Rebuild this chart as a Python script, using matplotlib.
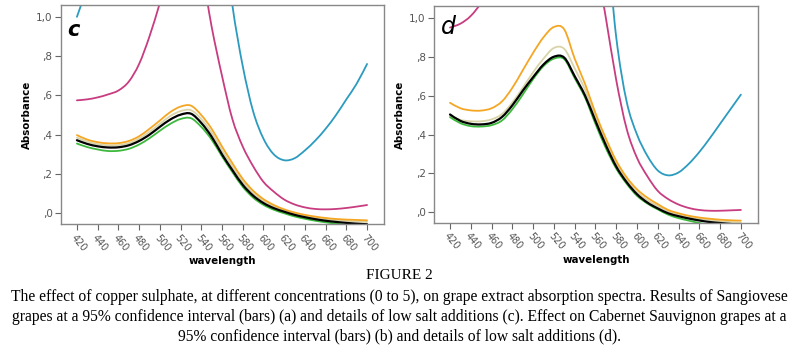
import numpy as np
import matplotlib
matplotlib.use('Agg')
import matplotlib.pyplot as plt
from matplotlib.path import Path
from matplotlib.patches import PathPatch

# wavelength grid (nm)
wl = [420, 430, 440, 450, 460, 470, 480, 490, 500, 510, 520, 530, 540, 550, 560,
      570, 580, 590, 600, 610, 620, 630, 640, 650, 660, 670, 680, 690, 700]

# panel c (Sangiovese, low salt additions)
c_blue = [1.00, 1.15, 1.30, 1.45, 1.60, 1.80, 2.00, 2.20, 2.40, 2.50, 2.50, 2.30, 2.00, 1.80, 1.50,
          1.06, 0.75, 0.52, 0.38, 0.30, 0.27, 0.28, 0.32, 0.37, 0.43, 0.50, 0.58, 0.66, 0.76]
c_magenta = [0.575, 0.58, 0.59, 0.605, 0.625, 0.67, 0.76, 0.90, 1.07, 1.25, 1.40, 1.40, 1.25, 0.95, 0.70,
             0.48, 0.34, 0.24, 0.16, 0.11, 0.07, 0.045, 0.03, 0.022, 0.02, 0.022, 0.027, 0.034, 0.042]
c_orange = [0.398, 0.375, 0.362, 0.356, 0.357, 0.368, 0.392, 0.43, 0.472, 0.515, 0.543, 0.548, 0.50, 0.43, 0.34,
            0.255, 0.175, 0.115, 0.072, 0.042, 0.02, 0.004, -0.008, -0.017, -0.024, -0.029, -0.032, -0.034, -0.036]
c_tan = [0.385, 0.365, 0.352, 0.346, 0.347, 0.357, 0.38, 0.415, 0.455, 0.495, 0.52, 0.525, 0.48, 0.41, 0.32,
         0.237, 0.16, 0.102, 0.062, 0.034, 0.014, -0.002, -0.014, -0.023, -0.03, -0.035, -0.039, -0.042, -0.044]
c_black = [0.372, 0.353, 0.341, 0.335, 0.336, 0.346, 0.368, 0.40, 0.44, 0.477, 0.502, 0.507, 0.46, 0.39, 0.30,
           0.22, 0.145, 0.09, 0.052, 0.026, 0.008, -0.008, -0.02, -0.03, -0.038, -0.044, -0.049, -0.053, -0.056]
c_green = [0.355, 0.337, 0.325, 0.317, 0.318, 0.328, 0.35, 0.382, 0.42, 0.455, 0.48, 0.484, 0.44, 0.375, 0.29,
           0.21, 0.135, 0.08, 0.043, 0.018, 0.0, -0.016, -0.028, -0.038, -0.046, -0.053, -0.06, -0.065, -0.07]

# panel d (Cabernet Sauvignon, low salt additions)
d_blue = [1.6, 1.8, 2.0, 2.2, 2.4, 2.6, 2.8, 3.0, 3.1, 3.1, 3.0, 2.8, 2.5, 2.1, 1.8,
          1.45, 0.90, 0.57, 0.40, 0.29, 0.215, 0.19, 0.205, 0.25, 0.31, 0.38, 0.455, 0.53, 0.605]
d_magenta = [0.95, 0.97, 1.01, 1.08, 1.20, 1.35, 1.50, 1.65, 1.80, 1.90, 1.90, 1.80, 1.65, 1.50, 1.30,
             1.00, 0.68, 0.43, 0.28, 0.185, 0.11, 0.068, 0.04, 0.022, 0.012, 0.008, 0.008, 0.01, 0.012]
d_orange = [0.563, 0.535, 0.524, 0.523, 0.535, 0.57, 0.64, 0.73, 0.82, 0.90, 0.953, 0.94, 0.79, 0.66, 0.51,
            0.38, 0.265, 0.18, 0.118, 0.075, 0.042, 0.012, -0.005, -0.018, -0.027, -0.033, -0.038, -0.041, -0.043]
d_tan = [0.495, 0.475, 0.468, 0.468, 0.478, 0.505, 0.565, 0.64, 0.72, 0.79, 0.845, 0.84, 0.74, 0.63, 0.49,
         0.36, 0.25, 0.166, 0.104, 0.062, 0.032, 0.004, -0.012, -0.025, -0.034, -0.04, -0.046, -0.05, -0.053]
d_black = [0.503, 0.47, 0.455, 0.452, 0.46, 0.49, 0.55, 0.625, 0.695, 0.76, 0.80, 0.795, 0.70, 0.60, 0.47,
           0.345, 0.235, 0.155, 0.093, 0.05, 0.02, -0.005, -0.02, -0.032, -0.042, -0.05, -0.055, -0.06, -0.065]
d_green = [0.489, 0.458, 0.443, 0.441, 0.448, 0.472, 0.53, 0.605, 0.685, 0.752, 0.79, 0.787, 0.69, 0.59, 0.455,
           0.33, 0.225, 0.147, 0.085, 0.045, 0.015, -0.012, -0.03, -0.043, -0.055, -0.065, -0.072, -0.078, -0.083]

xticks = list(range(420, 701, 20))
yticks = [0.0, 0.2, 0.4, 0.6, 0.8, 1.0]
ylabels = [',0', ',2', ',4', ',6', ',8', '1,0']

colors = {'blue': '#2b9bbf', 'magenta': '#c83c80', 'orange': '#f5a623',
          'tan': '#d9d4a8', 'black': '#000000', 'green': '#3cb93c'}

caption = ("The effect of copper sulphate, at different concentrations (0 to 5), on grape extract absorption spectra. "
           "Results of Sangiovese\ngrapes at a 95% confidence interval (bars) (a) and details of low salt additions (c). "
           "Effect on Cabernet Sauvignon grapes at a\n95% confidence interval (bars) (b) and details of low salt additions (d).")


def smooth_line(ax, xs, ys, **kw):
    # draw the measured points joined by a smooth bezier (catmull-rom) path
    p = np.column_stack([xs, ys]).astype(float)
    ext = np.vstack([p[0], p, p[-1]])
    verts = [p[0]]
    codes = [Path.MOVETO]
    for i in range(1, len(ext) - 2):
        p0, p1, p2, p3 = ext[i - 1], ext[i], ext[i + 1], ext[i + 2]
        verts += [p1 + (p2 - p0) / 6.0, p2 - (p3 - p1) / 6.0, p2]
        codes += [Path.CURVE4] * 3
    ax.add_patch(PathPatch(Path(verts, codes), fill=False, capstyle='round', **kw))


fig = plt.figure(figsize=(7.98, 3.62), dpi=100)
ax_c = fig.add_axes([0.0764, 0.381, 0.405, 0.605])
ax_d = fig.add_axes([0.5439, 0.384, 0.406, 0.599])

panels = [
    (ax_c, 'c', dict(fontweight='bold', fontsize=15), 0.93,
     [c_blue, c_magenta, c_tan, c_orange, c_green, c_black]),
    (ax_d, 'd', dict(fontweight='normal', fontsize=17), 0.96,
     [d_blue, d_magenta, d_tan, d_orange, d_green, d_black]),
]
names = ['blue', 'magenta', 'tan', 'orange', 'green', 'black']

for ax, letter, lkw, ly, series in panels:
    for name, ys in zip(names, series):
        lw = 1.6 if name == 'black' else 1.3
        smooth_line(ax, wl, ys, edgecolor=colors[name], lw=lw)
    ax.set_xlim(404.6, 716.5)
    ax.set_ylim(-0.055, 1.06)
    ax.set_xticks(xticks)
    ax.set_xticklabels([str(t) for t in xticks], rotation=-50, ha='left', va='top',
                       rotation_mode='anchor', fontsize=7, color='#555555')
    ax.set_yticks(yticks)
    ax.set_yticklabels(ylabels, fontsize=7.5, color='#555555')
    ax.tick_params(direction='out', length=4, width=0.8, color='#666666', pad=2)
    for sp in ax.spines.values():
        sp.set_color('#888888')
        sp.set_linewidth(1.0)
    ax.set_xlabel('wavelength', fontweight='bold', fontsize=7.4, labelpad=2)
    ax.set_ylabel('Absorbance', fontweight='bold', fontsize=7.4, labelpad=3)
    ax.text(0.02, ly, letter, transform=ax.transAxes, fontstyle='italic',
            ha='left', va='top', color='black', **lkw)

fig.text(0.5, 0.24, 'FIGURE 2', ha='center', va='center', family='Liberation Serif', fontsize=11)
fig.text(0.5, 0.125, caption, ha='center', va='center', family='Liberation Serif',
         fontsize=11.25, linespacing=1.34)

fig.savefig('out.png', dpi=100)
